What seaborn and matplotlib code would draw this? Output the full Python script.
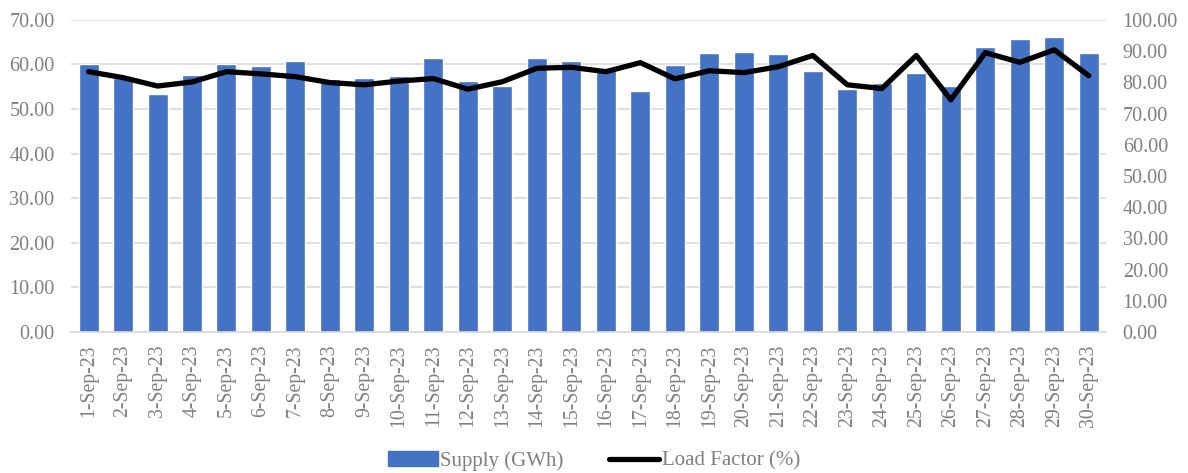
import numpy as np
import pandas as pd
import seaborn as sns
import matplotlib.pyplot as plt
from matplotlib.patches import Patch
from matplotlib.lines import Line2D

days = [f"{d}-Sep-23" for d in range(1, 31)]
supply = [60.0, 57.0, 53.4, 57.7, 60.1, 59.7, 60.7, 56.8, 56.9, 57.4,
          61.5, 56.2, 55.2, 61.4, 60.8, 59.3, 54.1, 59.8, 62.6, 62.7,
          62.4, 58.6, 54.5, 55.8, 58.1, 55.2, 63.9, 65.7, 66.1, 62.6]
load_factor = [83.4, 81.5, 78.8, 80.1, 83.4, 82.7, 81.8, 79.9, 79.2, 80.4,
               81.2, 77.8, 80.2, 84.5, 84.8, 83.4, 86.3, 81.1, 83.7, 83.1,
               85.0, 88.6, 79.2, 78.0, 88.6, 74.4, 89.5, 86.4, 90.4, 82.1]

df = pd.DataFrame({"day": days, "supply": supply, "lf": load_factor})

sns.set_theme(style="white")
plt.rcParams["font.family"] = ["Liberation Serif", "DejaVu Serif"]
grey = "#7f7f7f"
bar_c = "#4472c4"

fig = plt.figure(figsize=(11.88, 4.73), dpi=100)
ax = fig.add_axes([0.06, 0.298, 0.871, 0.66])
sns.barplot(data=df, x="day", y="supply", color=bar_c, saturation=1,
            width=0.58, ax=ax)
ax.set_ylim(0, 70)
ax.set_yticks(np.arange(0, 71, 10))
ax.set_yticklabels([f"{v:.2f}" for v in np.arange(0, 71, 10)])
ax.yaxis.grid(True, color="#d9d9d9", linewidth=1.2)
ax.set_axisbelow(True)
ax.set_xlim(-0.5, 29.5)

ax2 = ax.twinx()
sns.lineplot(x=np.arange(len(days)), y=df["lf"], color="black",
             linewidth=3.8, ax=ax2)
ax2.set_ylim(0, 100)
ax2.set_yticks(np.arange(0, 101, 10))
ax2.set_yticklabels([f"{v:.2f}" for v in np.arange(0, 101, 10)])

for a in (ax, ax2):
    for s in a.spines.values():
        s.set_visible(False)
    a.set_xlabel("")
    a.set_ylabel("")
    a.tick_params(axis="y", length=0, labelsize=14.5, colors=grey, pad=12)
ax.spines["bottom"].set_visible(True)
ax.spines["bottom"].set_color("#d9d9d9")
ax.spines["bottom"].set_linewidth(1.2)
ax.tick_params(axis="x", rotation=90, labelsize=14.2, colors=grey,
               length=0, pad=9)

handles = [Patch(color=bar_c, label="Supply (GWh)"),
           Line2D([0], [0], color="black", linewidth=3.8,
                  solid_capstyle="round", label="Load Factor (%)")]
fig.legend(handles=handles, loc="lower center", ncol=2, frameon=False,
           fontsize=15, labelcolor=grey, bbox_to_anchor=(0.5, -0.035),
           handlelength=2.4, handletextpad=0.1, columnspacing=2.2)

fig.savefig("out.png", dpi=100)
